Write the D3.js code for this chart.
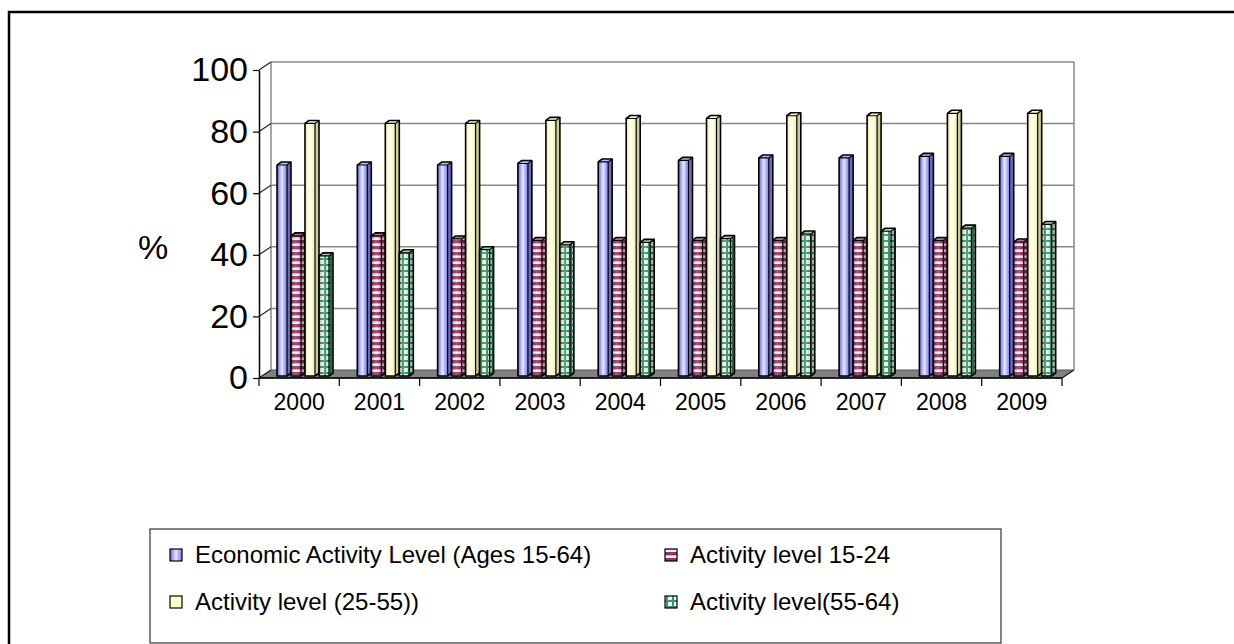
<!DOCTYPE html>
<html>
<head>
<meta charset="utf-8">
<script src="https://cdn.jsdelivr.net/npm/d3@7/dist/d3.min.js"></script>
<style>
  html, body { margin: 0; padding: 0; background: #ffffff; }
  svg { display: block; font-family: "Liberation Sans", Arial, sans-serif; }
</style>
</head>
<body>
<svg id="chart" width="1234" height="644"></svg>
<script>
// Economic activity rates, %
const years = ["2000","2001","2002","2003","2004","2005","2006","2007","2008","2009"];
const seriesNames = [
  "Economic Activity Level (Ages 15-64)",
  "Activity level 15-24",
  "Activity level (25-55))",
  "Activity level(55-64)"
];
const activity1564 = [68.5, 68.5, 68.5, 69.0, 69.5, 70.0, 70.8, 70.8, 71.3, 71.3];
const activity1524 = [45.5, 45.5, 44.5, 44.0, 44.0, 44.0, 44.0, 44.0, 44.0, 43.5];
const activity2555 = [82.0, 82.0, 82.0, 83.0, 83.6, 83.6, 84.5, 84.5, 85.3, 85.3];
const activity5564 = [39.0, 40.0, 41.0, 42.6, 43.4, 44.6, 46.1, 47.0, 48.0, 49.2];
const yTicks = [0, 20, 40, 60, 80, 100];

const seriesValues = [activity1564, activity1524, activity2555, activity5564];

const svg = d3.select("#chart");
const defs = svg.append("defs");

// outer frame
svg.append("rect").attr("x", 9).attr("y", 12).attr("width", 1240).attr("height", 650)
  .attr("fill", "none").attr("stroke", "#000").attr("stroke-width", 2.5);

// plot geometry (front plane) and depth offset of the back wall
const plotL = 259, plotR = 1062, plotBase = 378, plotTop = 70;
const DX = 12, DY = -8;

const y = d3.scaleLinear().domain([0, 100]).range([plotBase, plotTop]);
const x = d3.scaleBand().domain(years).range([plotL, plotR]).padding(0);
const xs = d3.scaleBand().domain(d3.range(4)).range([14, 70]).padding(0);

// ---- fills ----
function linGrad(id, stops) {
  const g = defs.append("linearGradient").attr("id", id)
    .attr("x1", "0%").attr("x2", "100%").attr("y1", "0%").attr("y2", "0%");
  stops.forEach(s => g.append("stop").attr("offset", s[0]).attr("stop-color", s[1]));
}
linGrad("blueFront", [[0, "#6a6ad4"], [0.25, "#a4a4ff"], [0.5, "#ececff"], [0.72, "#b0b0ff"], [1, "#8080ea"]]);
linGrad("yellowFront", [[0, "#e2e2b0"], [0.3, "#ffffd6"], [0.55, "#fffff0"], [0.8, "#f6f6c6"], [1, "#e8e8b8"]]);

// horizontal stripes
const ps = defs.append("pattern").attr("id", "stripes").attr("patternUnits", "userSpaceOnUse")
  .attr("width", 6).attr("height", 6);
ps.append("rect").attr("width", 6).attr("height", 6).attr("fill", "#f4f0f2");
ps.append("rect").attr("y", 0).attr("width", 6).attr("height", 3).attr("fill", "#993366");
ps.append("rect").attr("y", 3).attr("width", 6).attr("height", 1).attr("fill", "#c8b4be");

// grid
const pg = defs.append("pattern").attr("id", "grid").attr("patternUnits", "userSpaceOnUse")
  .attr("width", 6).attr("height", 6);
pg.append("rect").attr("width", 6).attr("height", 6).attr("fill", "#f2f6f2");
pg.append("rect").attr("x", 0).attr("width", 2).attr("height", 6).attr("fill", "#339966");
pg.append("rect").attr("y", 0).attr("width", 6).attr("height", 2).attr("fill", "#339966");

// cylindrical shading overlay for patterned bars
const shade = defs.append("linearGradient").attr("id", "shade")
  .attr("x1", "0%").attr("x2", "100%");
shade.append("stop").attr("offset", 0).attr("stop-color", "#000").attr("stop-opacity", 0.25);
shade.append("stop").attr("offset", 0.5).attr("stop-color", "#fff").attr("stop-opacity", 0.15);
shade.append("stop").attr("offset", 1).attr("stop-color", "#000").attr("stop-opacity", 0.15);

const styles = [
  { front: "url(#blueFront)", side: "#6b6bb8", topFace: "#b8b8ff", overlay: false, swatch: "url(#blueFront)" },
  { front: "url(#stripes)", side: "url(#stripes)", topFace: "#b0708e", overlay: true, swatch: "url(#stripes)" },
  { front: "url(#yellowFront)", side: "#cfcf9c", topFace: "#ffffd0", overlay: false, swatch: "#ffffcc" },
  { front: "url(#grid)", side: "url(#grid)", topFace: "#9fcfb5", overlay: true, swatch: "url(#grid)" }
];

const pts = a => a.map(p => p.join(",")).join(" ");

// ---- walls and floor ----
const wall = svg.append("g");
wall.append("polygon")
  .attr("points", pts([[plotL, plotBase], [plotR, plotBase], [plotR + DX, plotBase + DY], [plotL + DX, plotBase + DY]]))
  .attr("fill", "#808080").attr("stroke", "#555").attr("stroke-width", 1);
wall.selectAll("line.grid").data(yTicks.filter(t => t > 0)).join("line")
  .attr("class", "grid")
  .attr("x1", plotL + DX).attr("x2", plotR + DX)
  .attr("y1", d => y(d) + DY).attr("y2", d => y(d) + DY)
  .attr("stroke", "#888").attr("stroke-width", 1.5);
wall.append("line").attr("x1", plotL + DX).attr("x2", plotL + DX)
  .attr("y1", y(100) + DY).attr("y2", plotBase + DY).attr("stroke", "#888").attr("stroke-width", 1.5);
wall.append("line").attr("x1", plotR + DX).attr("x2", plotR + DX)
  .attr("y1", y(100) + DY).attr("y2", plotBase + DY).attr("stroke", "#888").attr("stroke-width", 1.5);
wall.selectAll("line.diag").data(yTicks).join("line")
  .attr("class", "diag")
  .attr("x1", plotL).attr("x2", plotL + DX)
  .attr("y1", d => y(d)).attr("y2", d => y(d) + DY)
  .attr("stroke", "#222").attr("stroke-width", 1.2);
wall.append("line").attr("x1", plotR).attr("x2", plotR + DX)
  .attr("y1", plotBase).attr("y2", plotBase + DY).attr("stroke", "#222").attr("stroke-width", 1.2);

// ---- bars ----
const bw = 10, bdx = 4, bdy = 3, ox = 4, oy = -2;
const bars = svg.append("g");
seriesValues.forEach((vals, si) => {
  const st = styles[si];
  const g = bars.append("g");
  vals.forEach((v, i) => {
    const x0 = x(years[i]) + xs(si) + ox;
    const yT = y(v) + oy, yB = plotBase + oy;
    const side = [[x0 + bw, yT], [x0 + bw + bdx, yT - bdy], [x0 + bw + bdx, yB - bdy], [x0 + bw, yB]];
    g.append("polygon").attr("points", pts(side)).attr("fill", st.side);
    if (st.overlay) {
      g.append("polygon").attr("points", pts(side)).attr("fill", "#000").attr("fill-opacity", 0.3);
    }
    g.append("rect").attr("x", x0).attr("y", yT).attr("width", bw).attr("height", yB - yT)
      .attr("fill", st.front);
    if (st.overlay) {
      g.append("rect").attr("x", x0).attr("y", yT).attr("width", bw).attr("height", yB - yT)
        .attr("fill", "url(#shade)");
    }
    g.append("polygon")
      .attr("points", pts([[x0, yT], [x0 + bdx, yT - bdy], [x0 + bw + bdx, yT - bdy], [x0 + bw, yT]]))
      .attr("fill", st.topFace);
    g.append("polygon")
      .attr("points", pts([[x0, yB], [x0, yT], [x0 + bdx, yT - bdy], [x0 + bw + bdx, yT - bdy], [x0 + bw + bdx, yB - bdy], [x0 + bw, yB]]))
      .attr("fill", "none").attr("stroke", "#000").attr("stroke-width", 1.6).attr("stroke-linejoin", "round");
    g.append("polyline")
      .attr("points", pts([[x0, yT], [x0 + bw, yT], [x0 + bw + bdx, yT - bdy]]))
      .attr("fill", "none").attr("stroke", "#000").attr("stroke-width", 1.2);
    g.append("line").attr("x1", x0 + bw).attr("x2", x0 + bw).attr("y1", yT).attr("y2", yB)
      .attr("stroke", "#000").attr("stroke-width", 1.2);
  });
});

// ---- axes ----
const yAxis = d3.axisLeft(y).tickValues(yTicks).tickSize(6).tickSizeOuter(0).tickPadding(5);
const ya = svg.append("g").attr("transform", `translate(${plotL},0)`).call(yAxis);
ya.select(".domain").attr("stroke", "#000").attr("stroke-width", 1.5);
ya.selectAll(".tick line").attr("stroke", "#000").attr("stroke-width", 1.2);
ya.selectAll(".tick text").attr("font-size", 34).attr("fill", "#000")
  .attr("font-family", "'Liberation Sans', Arial, sans-serif");

// category axis: boundary ticks, centred labels
const xa = svg.append("g");
xa.append("line").attr("x1", plotL).attr("x2", plotR).attr("y1", plotBase).attr("y2", plotBase)
  .attr("stroke", "#000").attr("stroke-width", 1.5);
const bounds = years.map(d => x(d)).concat([x(years[years.length - 1]) + x.bandwidth()]);
xa.selectAll("line.tk").data(bounds).join("line")
  .attr("class", "tk")
  .attr("x1", d => d).attr("x2", d => d).attr("y1", plotBase).attr("y2", plotBase + 8)
  .attr("stroke", "#000").attr("stroke-width", 1.2);
xa.selectAll("text").data(years).join("text")
  .attr("x", d => x(d) + x.bandwidth() / 2).attr("y", 410)
  .attr("text-anchor", "middle").attr("font-size", 23).attr("fill", "#000")
  .text(d => d);

// axis title
svg.append("text").attr("x", 153).attr("y", 259).attr("text-anchor", "middle")
  .attr("font-size", 34).attr("fill", "#000").text("%");

// ---- legend ----
const lg = svg.append("g");
lg.append("rect").attr("x", 150).attr("y", 529).attr("width", 851).attr("height", 114)
  .attr("fill", "#fff").attr("stroke", "#333").attr("stroke-width", 1.2);
const legendPos = [[170, 555], [665, 555], [170, 602], [665, 602]];
seriesNames.forEach((name, i) => {
  const [lx, ly] = legendPos[i];
  lg.append("rect").attr("x", lx).attr("y", ly - 6).attr("width", 12).attr("height", 12)
    .attr("fill", styles[i].swatch).attr("stroke", "#000").attr("stroke-width", 1.2);
  lg.append("text").attr("x", lx + 25).attr("y", ly + 8).attr("font-size", 24).attr("fill", "#000")
    .text(name);
});
</script>
</body>
</html>
